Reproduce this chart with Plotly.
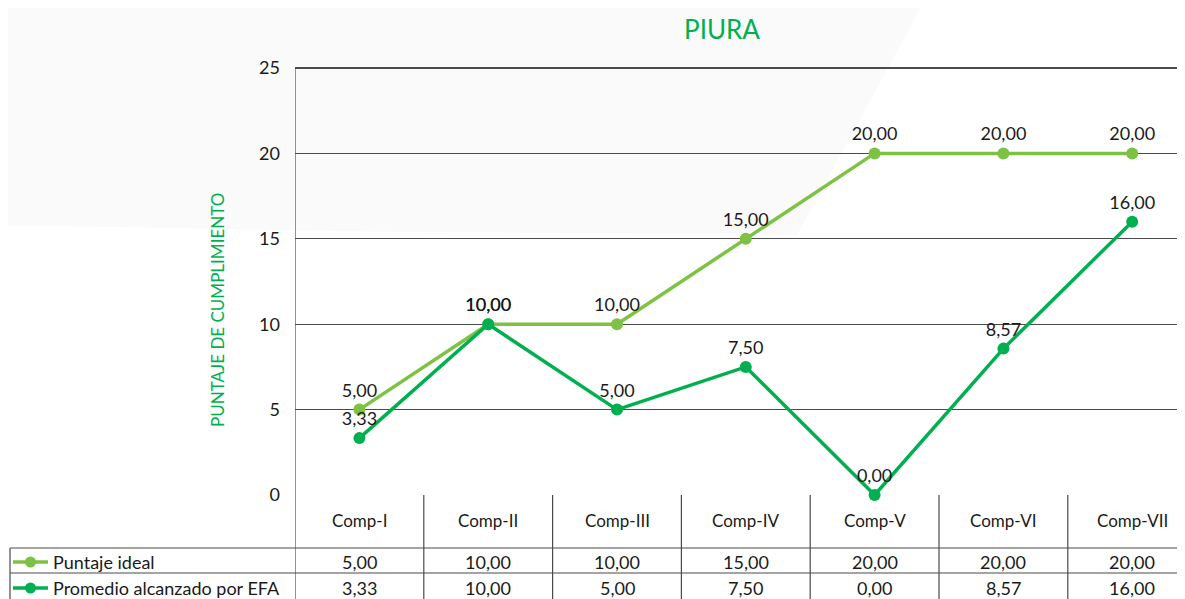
import plotly.graph_objects as go

# ---------------- data ----------------
categories = ["Comp-I", "Comp-II", "Comp-III", "Comp-IV", "Comp-V", "Comp-VI", "Comp-VII"]
puntaje_ideal = [5.00, 10.00, 10.00, 15.00, 20.00, 20.00, 20.00]
promedio_efa = [3.33, 10.00, 5.00, 7.50, 0.00, 8.57, 16.00]
series_names = ["Puntaje ideal", "Promedio alcanzado por EFA"]
y_ticks = [0, 5, 10, 15, 20, 25]
chart_title = "PIURA"
y_title = "PUNTAJE DE CUMPLIMIENTO"

# ---------------- style ----------------
OFF = 8                      # page body margin
W, H = 1185, 599
L = 295 - OFF
T = 68 - OFF
PLOT_BOTTOM = 495 - OFF
B = H - PLOT_BOTTOM
R = 0
PW, PH = W - L - R, H - T - B
COL_W = 128.8
FONT = "Lato"
C_IDEAL = "#7dc242"
C_PROM = "#00b050"
GRID = "#4a4a4a"
TXT = "#1a1a1a"
series_colors = [C_IDEAL, C_PROM]


def fmt(v):
    return f"{v:.2f}".replace(".", ",")


def px(xp):
    """reference page pixel x -> paper"""
    return (xp - OFF - L) / PW


def py(yp):
    """reference page pixel y -> paper"""
    return (PLOT_BOTTOM - (yp - OFF)) / PH


fig = go.Figure()
for name, vals, col in zip(series_names, [puntaje_ideal, promedio_efa], series_colors):
    fig.add_trace(go.Scatter(
        x=list(range(len(categories))), y=vals, name=name,
        mode="lines+markers+text",
        text=[fmt(v) for v in vals], textposition="top center",
        textfont=dict(family=FONT, size=18, color=TXT),
        line=dict(color=col, width=3.5),
        marker=dict(color=col, size=12),
        cliponaxis=False, showlegend=False,
    ))

shapes = []
annotations = []

# faint background shape
shapes.append(dict(type="path", xref="paper", yref="paper", layer="below",
                   path=f"M {px(0)},{py(0)} L {px(925)},{py(0)} L {px(797)},{py(235)} "
                        f"L {px(400)},{py(232)} L {px(0)},{py(225)} Z",
                   fillcolor="#fafafa", line=dict(width=0)))

# plot top border
shapes.append(dict(type="line", xref="paper", yref="paper", x0=0, x1=1, y0=1, y1=1,
                   line=dict(color="#111111", width=1.4)))

# table lines
y_bottom = py(H + 20)
shapes.append(dict(type="line", xref="x", yref="paper", x0=-0.5, x1=-0.5, y0=1, y1=y_bottom,
                   line=dict(color=GRID, width=1.2)))
for k in range(len(categories) - 1):
    shapes.append(dict(type="line", xref="x", yref="paper", x0=k + 0.5, x1=k + 0.5,
                       y0=0, y1=y_bottom, line=dict(color=GRID, width=1.2)))
for yy in [548, 573]:
    shapes.append(dict(type="line", xref="paper", yref="paper", x0=px(10), x1=1,
                       y0=py(yy), y1=py(yy), line=dict(color=GRID, width=1.2)))
shapes.append(dict(type="line", xref="paper", yref="paper", x0=px(10), x1=px(10),
                   y0=py(548), y1=y_bottom, line=dict(color=GRID, width=1.2)))

# table text
for i, c in enumerate(categories):
    annotations.append(dict(x=i, y=py(520), xref="x", yref="paper", text=c, showarrow=False,
                            xanchor="center", yanchor="middle",
                            font=dict(family=FONT, size=17, color=TXT)))
row_y = [562, 588]
for vals, ry in zip([puntaje_ideal, promedio_efa], row_y):
    for i, v in enumerate(vals):
        annotations.append(dict(x=i, y=py(ry), xref="x", yref="paper", text=fmt(v),
                                xanchor="center", yanchor="middle",
                                showarrow=False, font=dict(family=FONT, size=18, color=TXT)))

# legend keys inside the table
for name, col, ry in zip(series_names, series_colors, row_y):
    shapes.append(dict(type="line", xref="paper", yref="paper", x0=px(13), x1=px(48),
                       y0=py(ry), y1=py(ry), line=dict(color=col, width=3.5)))
    shapes.append(dict(type="circle", xref="paper", yref="paper", x0=px(25), x1=px(36),
                       y0=py(ry + 5.5), y1=py(ry - 5.5), fillcolor=col, line=dict(width=0)))
    annotations.append(dict(x=px(51), y=py(ry), xref="paper", yref="paper", text=name,
                            xanchor="left", yanchor="middle", showarrow=False,
                            font=dict(family=FONT, size=18, color=TXT)))

# axis title
annotations.append(dict(x=px(217), y=py(310), xref="paper", yref="paper", text=y_title,
                        textangle=-90, showarrow=False, xanchor="center", yanchor="middle",
                        font=dict(family=FONT, size=17, color=C_PROM)))

fig.update_layout(
    width=W, height=H,
    margin=dict(l=L, r=R, t=T, b=B),
    paper_bgcolor="white", plot_bgcolor="rgba(0,0,0,0)",
    title=dict(text=chart_title, xref="container", yref="container",
               x=(722 - OFF) / W, xanchor="center", y=1 - (30 - OFF) / H, yanchor="middle",
               font=dict(family=FONT, size=26, color=C_PROM)),
    xaxis=dict(range=[-0.5, -0.5 + PW / COL_W], showticklabels=False, showgrid=False,
               zeroline=False, showline=False, fixedrange=True),
    yaxis=dict(range=[0, 25], tickvals=y_ticks, showgrid=True, gridcolor=GRID, gridwidth=1.2,
               zeroline=False, showline=False, ticks="", ticklabelstandoff=14,
               tickfont=dict(family=FONT, size=18, color=TXT)),
    shapes=shapes, annotations=annotations,
)

fig.write_html("out.html")
